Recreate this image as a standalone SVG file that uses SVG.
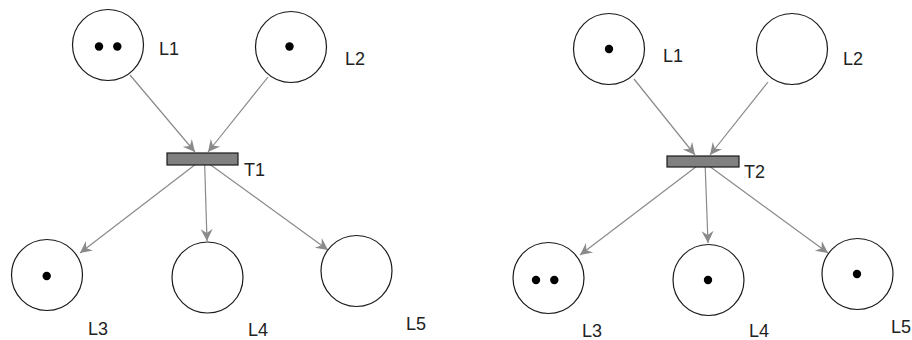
<svg xmlns="http://www.w3.org/2000/svg" width="912" height="340" viewBox="0 0 912 340">
<defs>
<style>
.place{fill:#ffffff;stroke:#1a1a1a;stroke-width:1.2}
.tok{fill:#000000}
.trans{fill:#808080;stroke:#1a1a1a;stroke-width:1.2}
.lbl{font-family:"Liberation Sans",Arial,sans-serif;font-size:18px;fill:#222222}
.arc{stroke:#8a8a8a;stroke-width:1.2;fill:none;marker-end:url(#ah)}
</style>
<marker id="ah" markerUnits="userSpaceOnUse" markerWidth="14" markerHeight="14" refX="12" refY="7" orient="auto">
<path d="M0,1 L12,7 L0,13 L4,7 z" fill="#8a8a8a"/>
</marker>
</defs>
<rect width="912" height="340" fill="#ffffff"/>
<g id="connectors">
<line class="arc" x1="130" y1="75" x2="195" y2="152"/>
<line class="arc" x1="268" y1="77" x2="208" y2="152"/>
<line class="arc" x1="202.5" y1="159" x2="80" y2="253"/>
<line class="arc" x1="204.5" y1="159" x2="207" y2="241"/>
<line class="arc" x1="202.5" y1="159" x2="328" y2="250"/>
<line class="arc" x1="634" y1="79" x2="695" y2="155"/>
<line class="arc" x1="768" y1="82" x2="710" y2="155"/>
<line class="arc" x1="703" y1="161.5" x2="580" y2="255"/>
<line class="arc" x1="705" y1="161.5" x2="708" y2="243"/>
<line class="arc" x1="703" y1="161.5" x2="828" y2="253"/>
</g>
<g id="left-L1"><circle class="place" cx="108" cy="45" r="35.5"/><circle class="tok" cx="99" cy="46.5" r="4.2"/><circle class="tok" cx="117.3" cy="46.5" r="4.2"/><text class="lbl" x="159" y="55">L1</text></g>
<g id="left-L2"><circle class="place" cx="291" cy="47" r="35.5"/><circle class="tok" cx="289.5" cy="46.5" r="4.2"/><text class="lbl" x="345" y="65">L2</text></g>
<g id="left-T1"><rect class="trans" x="167" y="153" width="71" height="12"/><text class="lbl" x="244" y="176">T1</text></g>
<g id="left-L3"><circle class="place" cx="47" cy="275" r="35.5"/><circle class="tok" cx="46.7" cy="276" r="4.2"/><text class="lbl" x="88" y="335">L3</text></g>
<g id="left-L4"><circle class="place" cx="207.5" cy="277.5" r="35.5"/><text class="lbl" x="248" y="336">L4</text></g>
<g id="left-L5"><circle class="place" cx="356.5" cy="271" r="35.5"/><text class="lbl" x="406" y="330">L5</text></g>
<g id="right-L1"><circle class="place" cx="609" cy="49" r="35.5"/><circle class="tok" cx="609" cy="49" r="4.2"/><text class="lbl" x="663" y="62">L1</text></g>
<g id="right-L2"><circle class="place" cx="792" cy="49" r="35.5"/><text class="lbl" x="843" y="65">L2</text></g>
<g id="right-T2"><rect class="trans" x="667" y="156" width="72" height="11"/><text class="lbl" x="744" y="178">T2</text></g>
<g id="right-L3"><circle class="place" cx="548.5" cy="278" r="35.5"/><circle class="tok" cx="536" cy="280" r="4.2"/><circle class="tok" cx="554.3" cy="280" r="4.2"/><text class="lbl" x="582" y="337">L3</text></g>
<g id="right-L4"><circle class="place" cx="708.5" cy="280" r="35.5"/><circle class="tok" cx="708" cy="280" r="4.2"/><text class="lbl" x="749" y="337">L4</text></g>
<g id="right-L5"><circle class="place" cx="857.5" cy="274" r="35.5"/><circle class="tok" cx="857" cy="274" r="4.2"/><text class="lbl" x="891" y="333">L5</text></g>
</svg>
